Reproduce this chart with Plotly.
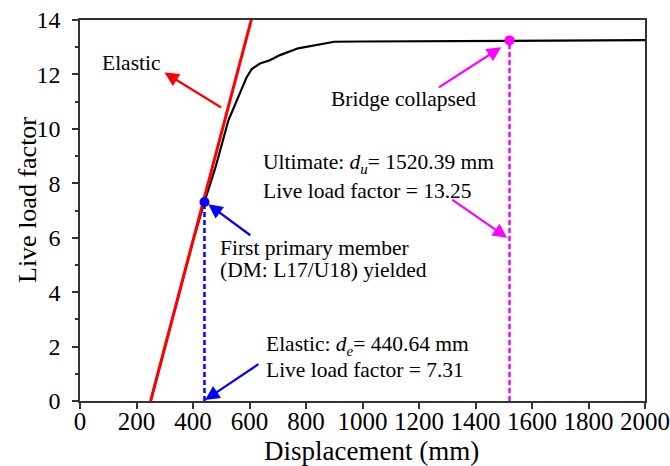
import plotly.graph_objects as go

# ---- data ----
disp = [250, 300, 350, 400, 440.64, 480, 525, 560, 590, 608, 637, 672, 708, 772, 850, 900, 1000, 1200, 1400, 1520.39, 1700, 2000]
live_load = [0, 1.96, 3.92, 5.88, 7.31, 8.6, 10.3, 11.2, 11.9, 12.2, 12.4, 12.52, 12.71, 12.96, 13.12, 13.2, 13.21, 13.22, 13.24, 13.25, 13.26, 13.26]

elastic_x = [250, 610]
elastic_y = [0, 14.15]

yield_pt = (440.64, 7.31)      # first primary member yielded
ultimate_pt = (1520.39, 13.25)  # bridge collapsed

x_ticks = [0, 200, 400, 600, 800, 1000, 1200, 1400, 1600, 1800, 2000]
y_ticks = [0, 2, 4, 6, 8, 10, 12, 14]

FONT = "Liberation Serif"
RED, BLUE, MAG = "#FF0000", "#0000FF", "#FF00FF"

fig = go.Figure()

fig.add_trace(go.Scatter(x=disp, y=live_load, mode="lines",
                         line=dict(color="black", width=2.2), showlegend=False))
fig.add_trace(go.Scatter(x=elastic_x, y=elastic_y, mode="lines", cliponaxis=False,
                         line=dict(color=RED, width=3), showlegend=False))
fig.add_trace(go.Scatter(x=[yield_pt[0], yield_pt[0]], y=[0, yield_pt[1]], mode="lines",
                         line=dict(color=BLUE, width=2.5, dash="5px,3px"), showlegend=False))
fig.add_trace(go.Scatter(x=[ultimate_pt[0], ultimate_pt[0]], y=[0, ultimate_pt[1]], mode="lines",
                         line=dict(color=MAG, width=2.5, dash="5px,3px"), showlegend=False))
fig.add_trace(go.Scatter(x=[yield_pt[0]], y=[yield_pt[1]], mode="markers",
                         marker=dict(color=BLUE, size=10), showlegend=False))
fig.add_trace(go.Scatter(x=[ultimate_pt[0]], y=[ultimate_pt[1]], mode="markers",
                         marker=dict(color=MAG, size=10), showlegend=False))

ann = []
def arrow(tail, head, color):
    ann.append(dict(x=head[0], y=head[1], ax=tail[0], ay=tail[1], xref="x", yref="y",
                    axref="x", ayref="y", text="", showarrow=True, arrowhead=2,
                    arrowsize=1.3, arrowwidth=2.2, arrowcolor=color))

arrow((505, 10.75), (299, 12.07), RED)
arrow((608, 6.05), (454, 7.23), BLUE)
arrow((637, 1.39), (443, 0.04), BLUE)
arrow((1265, 11.49), (1491, 13.0), MAG)
arrow((1312, 7.44), (1512, 6.0), MAG)

def label(x, y, text, anchor="left"):
    ann.append(dict(x=x, y=y, xref="x", yref="y", text=text, showarrow=False,
                    xanchor=anchor, yanchor="middle", font=dict(family=FONT, size=21.5, color="black")))

label(181, 12.41, "Elastic", "center")
label(882, 11.09, "Bridge collapsed")
label(642, 8.74, "Ultimate: <i>d</i><sub><i>u</i></sub>= 1520.39 mm")
label(642, 7.70, "Live load factor = 13.25")
label(490, 5.63, "First primary member")
label(490, 4.80, "(DM: L17/U18) yielded")
label(652, 2.05, "Elastic: <i>d</i><sub><i>e</i></sub>= 440.64 mm")
label(652, 1.13, "Live load factor = 7.31")

# axis titles placed as text in paper coordinates
ann.append(dict(x=371, y=451, xref="paper", yref="paper", text="Displacement (mm)", showarrow=False,
                xanchor="center", yanchor="middle", font=dict(family=FONT, size=27, color="black")))
ann.append(dict(x=27, y=200, xref="paper", yref="paper", text="Live load factor", showarrow=False,
                textangle=-90, xanchor="center", yanchor="middle",
                font=dict(family=FONT, size=26, color="black")))

L, R, T, B = 80, 25, 20, 65
W, H = 670, 466
pw, ph = W - L - R, H - T - B
for a in ann[-2:]:
    a["x"] = (a["x"] - L) / pw
    a["y"] = (H - B - a["y"]) / ph

fig.update_layout(
    width=W, height=H,
    margin=dict(l=L, r=R, t=T, b=B),
    paper_bgcolor="white", plot_bgcolor="white",
    font=dict(family=FONT, color="black"),
    annotations=ann,
)
fig.update_xaxes(range=[0, 2000], tickvals=x_ticks, ticks="outside", ticklen=6, tickwidth=1.5,
                 tickcolor="#333", showline=True, linecolor="#333", linewidth=1.5, mirror=True,
                 showgrid=False, zeroline=False, automargin=False, ticklabelstandoff=-9,
                 tickfont=dict(family=FONT, size=25, color="black"))
fig.update_yaxes(range=[0, 14], tickvals=y_ticks, ticks="outside", ticklen=6, tickwidth=1.5,
                 tickcolor="#333", showline=True, linecolor="#333", linewidth=1.5, mirror=True,
                 showgrid=False, zeroline=False, automargin=False, ticklabelstandoff=7,
                 tickfont=dict(family=FONT, size=24, color="black"),
                 minor=dict(dtick=1, ticks="outside", ticklen=3, tickwidth=1.5, tickcolor="#333", showgrid=False))

fig.write_html("out.html")
